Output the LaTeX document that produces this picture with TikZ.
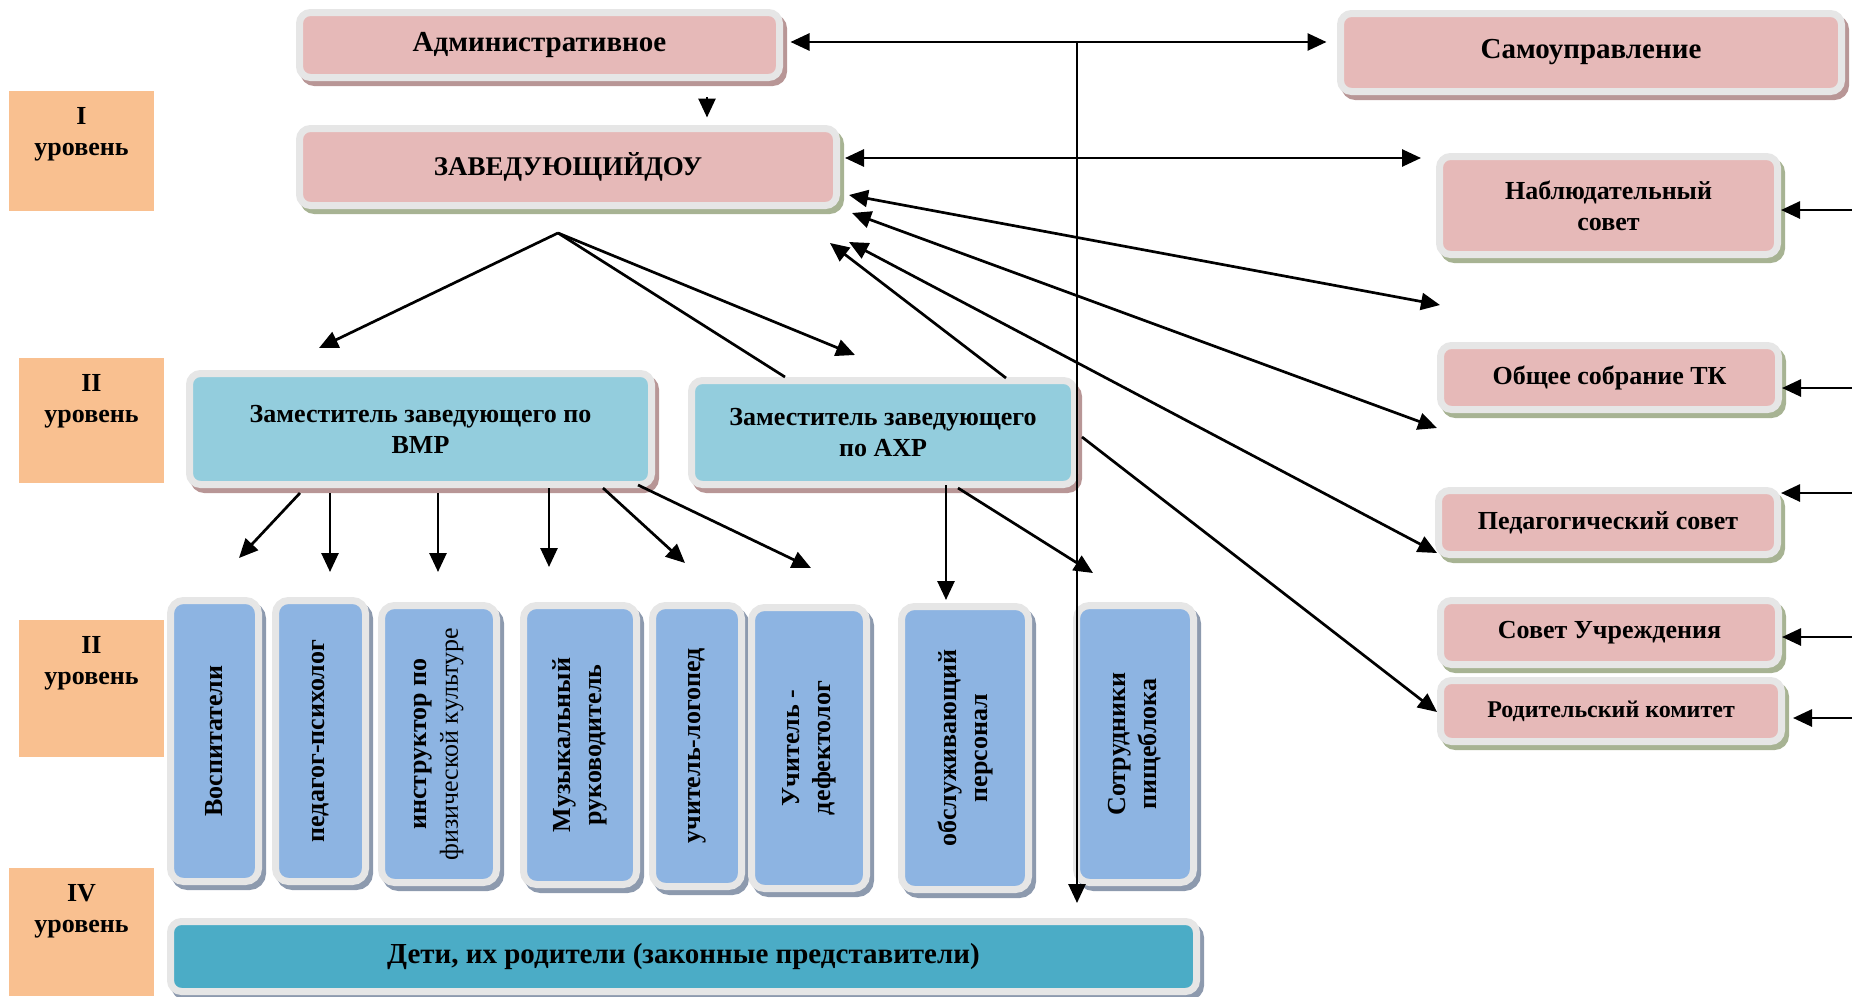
\documentclass[tikz,border=0pt]{standalone}
\usepackage{fontspec}
\setmainfont{Liberation Serif}
\usetikzlibrary{arrows.meta}
\definecolor{pinkf}{HTML}{E6B9B8}
\definecolor{greyb}{HTML}{E6E6E6}
\definecolor{shpink}{HTML}{B89696}
\definecolor{shgreen}{HTML}{A7B393}
\definecolor{tealf}{HTML}{93CDDD}
\definecolor{bluef}{HTML}{8DB4E2}
\definecolor{shblue}{HTML}{8D9AAE}
\definecolor{detif}{HTML}{4BACC6}
\definecolor{orangef}{HTML}{F9C090}
\tikzset{
  card/.style={draw=greyb, line width=7pt, rounded corners=11pt, inner sep=0pt, align=center,
    font=\bfseries\fontsize{26}{31}\selectfont,
    preaction={draw=#1, fill=#1, line width=7pt, transform canvas={shift={(4pt,-5pt)}}}},
  pinkbox/.style={card=shgreen, fill=pinkf},
  pinkboxb/.style={card=shpink, fill=pinkf},
  tealbox/.style={card=shpink, fill=tealf},
  bluebox/.style={card=shblue, fill=bluef, rounded corners=13pt, rotate=90},
  detibox/.style={card=shblue, fill=detif},
  lvbox/.style={fill=orangef, draw=none, inner sep=0pt},
  lvtext/.style={align=center, inner sep=0pt, font=\bfseries\fontsize{26}{31}\selectfont},
  big/.style={font=\bfseries\fontsize{29}{33}\selectfont},
  ln/.style={line width=2.7pt},
  arr/.style={line width=2.7pt, -{Triangle[length=19pt,width=17pt]}},
  darr/.style={line width=2.7pt, {Triangle[length=19pt,width=17pt]}-{Triangle[length=19pt,width=17pt]}}
}
\begin{document}
\begin{tikzpicture}[x=1pt,y=-1pt]
\useasboundingbox (0,0) rectangle (1852,996);
% level labels
\node[lvbox, minimum width=145pt, minimum height=120pt] (lv1) at (81.5,151) {};
\node[lvtext] (lv1t) at ([yshift=-43pt]lv1.north) {I\\уровень};
\node[lvbox, minimum width=145pt, minimum height=125pt] (lv2) at (91.5,420.5) {};
\node[lvtext] (lv2t) at ([yshift=-43pt]lv2.north) {II\\уровень};
\node[lvbox, minimum width=145pt, minimum height=137pt] (lv3) at (91.5,688.5) {};
\node[lvtext] (lv3t) at ([yshift=-43pt]lv3.north) {II\\уровень};
\node[lvbox, minimum width=145pt, minimum height=128pt] (lv4) at (81.5,932) {};
\node[lvtext] (lv4t) at ([yshift=-43pt]lv4.north) {IV\\уровень};
% top boxes
\node[pinkboxb, big, minimum width=480pt, minimum height=65pt] (admin) at (539.5,45) {Административное};
\node[pinkboxb, big, minimum width=501pt, minimum height=78pt] (samo) at (1591,52.5) {Самоуправление};
\node[pinkbox, minimum width=537pt, minimum height=77pt, font=\bfseries\fontsize{27}{31}\selectfont] (zav) at (568,167) {ЗАВЕДУЮЩИЙДОУ};
% right column
\node[pinkbox, minimum width=338pt, minimum height=98pt] (nabl) at (1608.5,205.5) {Наблюдательный\\совет};
\node[pinkbox, minimum width=338pt, minimum height=64pt] (obsh) at (1609.5,377.5) {Общее собрание ТК};
\node[pinkbox, minimum width=339pt, minimum height=64pt] (ped) at (1608,522.5) {Педагогический совет};
\node[pinkbox, minimum width=338pt, minimum height=64pt] (sovet) at (1609.5,632.5) {Совет Учреждения};
\node[pinkbox, minimum width=341pt, minimum height=61pt, font=\bfseries\fontsize{24}{29}\selectfont] (rodit) at (1611,711) {Родительский комитет};
% deputies
\node[tealbox, minimum width=462pt, minimum height=111pt] (vmr) at (420.5,429) {Заместитель заведующего по\\ВМР};
\node[tealbox, minimum width=383pt, minimum height=104pt] (axr) at (883,432.5) {Заместитель заведующего\\по АХР};
% staff
\node[bluebox, minimum width=281pt, minimum height=88pt] (vosp) at (214.5,741) {Воспитатели};
\node[bluebox, minimum width=281pt, minimum height=90pt] (psych) at (320.5,741) {педагог-психолог};
\node[bluebox, minimum width=277pt, minimum height=115pt] (instr) at (439,744) {инструктор по\\{\mdseries физической культуре}};
\node[bluebox, minimum width=279pt, minimum height=113pt] (music) at (580,745) {Музыкальный\\руководитель};
\node[bluebox, minimum width=281pt, minimum height=89pt] (logo) at (697,746) {учитель-логопед};
\node[bluebox, minimum width=281pt, minimum height=115pt] (defect) at (809,748) {Учитель -\\дефектолог};
\node[bluebox, minimum width=283pt, minimum height=127pt] (obsl) at (965,748) {обслуживающий\\персонал};
\node[bluebox, minimum width=277pt, minimum height=117pt] (sotr) at (1135,744) {Сотрудники\\пищеблока};
% children
\node[detibox, big, minimum width=1026pt, minimum height=70pt] (deti) at (683.5,956.5) {Дети, их родители (законные представители)};
% coordinates
\coordinate (vtop) at (1077,42);
\coordinate (vbot) at (1077,903);
\coordinate (a2s) at (707,97);
\coordinate (z1) at (845,158);
\coordinate (g1) at (1421,158);
\coordinate (z2) at (849,195);
\coordinate (g2) at (1440,305);
\coordinate (z3) at (852,213);
\coordinate (g3) at (1437,428);
\coordinate (z4) at (849,242);
\coordinate (pedL) at (1437,553);
\coordinate (z5) at (830,243);
\coordinate (axrT) at (1006,378);
\coordinate (axrR) at (1082,437);
\coordinate (rodL) at (1437,712);
\coordinate (apex) at (558,233);
\coordinate (f1) at (319,348);
\coordinate (f2) at (785,377);
\coordinate (f3) at (855,355);
\coordinate (r1) at (1852,210);
\coordinate (r2) at (1852,388);
\coordinate (r3) at (1852,493);
\coordinate (r4) at (1852,637);
\coordinate (r5) at (1852,718);
\coordinate (va) at (300,493);  \coordinate (ta) at (239,558);
\coordinate (vb) at (330,493);  \coordinate (tb) at (330,572);
\coordinate (vc) at (438,493);  \coordinate (tc) at (438,572);
\coordinate (vd) at (549,488);  \coordinate (td) at (549,567);
\coordinate (ve) at (603,488);  \coordinate (te) at (685,563);
\coordinate (vf) at (638,485);  \coordinate (tf) at (811,568);
\coordinate (xa) at (946,485);  \coordinate (ya) at (946,600);
\coordinate (xb) at (958,488);  \coordinate (yb) at (1093,573);
% connectors
\draw[darr] ([xshift=7.5pt,yshift=3pt]admin.east) -- ([xshift=-10.5pt,yshift=10.5pt]samo.west);
\draw[arr] (vtop) -- (vbot);
\draw[arr, shorten >=7.5pt] (a2s) -- (a2s |- zav.north);
\draw[darr] (z1) -- (g1);
\draw[darr] (z2) -- (g2);
\draw[darr] (z3) -- (g3);
\draw[darr] (z4) -- (pedL);
\draw[arr] (axrT) -- (z5);
\draw[arr] (axrR) -- (rodL);
\draw[arr] (apex) -- (f1);
\draw[ln] (apex) -- (f2);
\draw[arr] (apex) -- (f3);
\draw[arr] (r1) -- (r1 -| nabl.east);
\draw[arr] (r2) -- (r2 -| obsh.east);
\draw[arr] (r3) -- (r3 -| ped.east);
\draw[arr] (r4) -- (r4 -| sovet.east);
\draw[arr, shorten >=8pt] (r5) -- (r5 -| rodit.east);
\draw[arr] (va) -- (ta);
\draw[arr] (vb) -- (tb);
\draw[arr] (vc) -- (tc);
\draw[arr] (vd) -- (td);
\draw[arr] (ve) -- (te);
\draw[arr] (vf) -- (tf);
\draw[arr] (xa) -- (ya);
\draw[arr] (xb) -- (yb);
\end{tikzpicture}
\end{document}
